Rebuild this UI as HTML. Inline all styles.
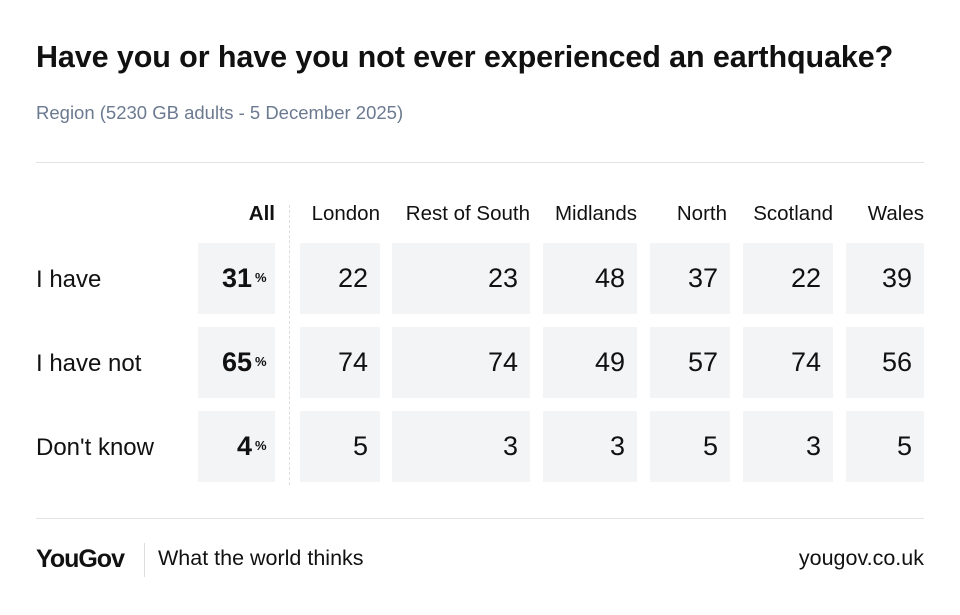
<!DOCTYPE html>
<html><head><meta charset="utf-8"><style>
body{margin:0;width:960px;height:615px;background:#fff;font-family:"Liberation Sans",Arial,sans-serif;color:#111;position:relative;overflow:hidden}
.a{position:absolute;white-space:nowrap}
.c{position:absolute;background:#f3f4f6}
.n{position:absolute;font-size:27px;text-align:right;line-height:71px}
.h{position:absolute;font-size:20.5px;text-align:right;top:202px}
.r{position:absolute;left:36px;font-size:24px;line-height:71px}
</style></head><body>
<div class="a" style="left:36px;top:40px;font-size:30.5px;font-weight:bold;letter-spacing:-0.1px">Have you or have you not ever experienced an earthquake?</div>
<div class="a" style="left:36px;top:102px;font-size:18.5px;color:#6b7a90">Region (5230 GB adults - 5 December 2025)</div>
<div class="a" style="left:36px;top:162px;width:888px;height:1px;background:#e3e3e3"></div>
<div class="a" style="left:289px;top:205px;height:280px;border-left:1px dashed #ddd"></div>
<div class="h" style="left:198px;width:77px;font-weight:bold">All</div>
<div class="h" style="left:290px;width:90px">London</div>
<div class="h" style="left:382px;width:148px">Rest of South</div>
<div class="h" style="left:533px;width:104px">Midlands</div>
<div class="h" style="left:640px;width:87px">North</div>
<div class="h" style="left:733px;width:100px">Scotland</div>
<div class="h" style="left:836px;width:88px">Wales</div>
<div id="g"></div>
<div class="a" style="left:36px;top:518px;width:888px;height:1px;background:#e3e3e3"></div>
<div class="a" style="left:36px;top:545px;font-size:25px;font-weight:bold;letter-spacing:-1px">YouGov</div>
<div class="a" style="left:144px;top:543px;width:1px;height:34px;background:#ddd"></div>
<div class="a" style="left:158px;top:546px;font-size:21.5px">What the world thinks</div>
<div class="a" style="right:36px;top:546px;font-size:21.5px">yougov.co.uk</div>
<script>
var cols=[[198,77],[300,80],[392,138],[543,94],[650,80],[743,90],[846,78]];
var rows=[["I have",243,[31,22,23,48,37,22,39]],["I have not",327,[65,74,74,49,57,74,56]],["Don't know",411,[4,5,3,3,5,3,5]]];
var h="";
rows.forEach(function(r){
h+='<div class="r" style="top:'+(r[1]+1)+'px">'+r[0]+'</div>';
cols.forEach(function(c,i){
h+='<div class="c" style="left:'+c[0]+'px;top:'+r[1]+'px;width:'+c[1]+'px;height:71px"></div>';
if(i==0)h+='<div class="n" style="left:'+c[0]+'px;top:'+r[1]+'px;width:'+(c[1]-23)+'px;font-weight:bold">'+r[2][i]+'</div><div class="a" style="left:'+(c[0]+c[1]-20)+'px;top:'+(r[1]+27)+'px;font-size:13px;font-weight:bold">%</div>';
else h+='<div class="n" style="left:'+c[0]+'px;top:'+r[1]+'px;width:'+(c[1]-12)+'px">'+r[2][i]+'</div>';
});});
document.getElementById("g").innerHTML=h;
</script>
</body></html>
